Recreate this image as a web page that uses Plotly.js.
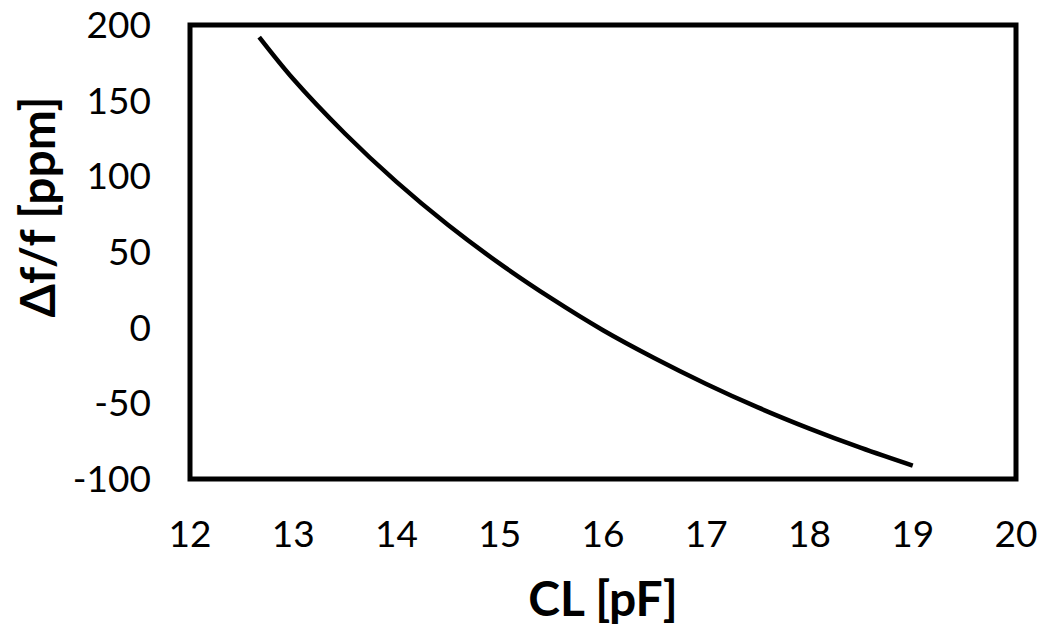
<!DOCTYPE html>
<html>
<head>
<meta charset="utf-8">
<script src="https://cdn.plot.ly/plotly-3.0.1.min.js"></script>
<style>
  html, body { margin: 0; padding: 0; background: #ffffff; }
  #chart { width: 1040px; height: 631px; }
</style>
</head>
<body>
<div id="chart"></div>
<script>
// Load capacitance CL [pF]
const clValues = [12.67, 13.0, 13.5, 14.0, 14.5, 15.0, 15.5, 16.0, 16.5, 17.0, 17.5, 18.0, 18.5, 19.0];
// Frequency pulling Δf/f [ppm]
const ppmValues = [192, 164.3, 128.3, 96.3, 67.8, 42.3, 19.3, -1.7, -20.2, -37.2, -52.7, -66.7, -79.5, -91.2];

const xTickVals = [12, 13, 14, 15, 16, 17, 18, 19, 20];
const yTickVals = [-100, -50, 0, 50, 100, 150, 200];

const xTitle = 'CL [pF]';
const yTitle = 'Δf/f [ppm]';

const tickFont = { family: 'Lato, Open Sans, sans-serif', size: 37, color: '#000000' };
const titleFont = { family: 'Lato, Liberation Sans, sans-serif', size: 48, color: '#000000', weight: 'bold' };

const trace = {
  x: clValues,
  y: ppmValues,
  type: 'scatter',
  mode: 'lines',
  line: { color: '#000000', width: 4.5, shape: 'spline', smoothing: 1 },
  hoverinfo: 'skip'
};

const layout = {
  width: 1040,
  height: 631,
  margin: { l: 190, r: 24, t: 25, b: 152, pad: 0 },
  paper_bgcolor: '#ffffff',
  plot_bgcolor: '#ffffff',
  showlegend: false,
  xaxis: {
    range: [12, 20.0001],
    tickvals: xTickVals,
    ticktext: xTickVals.map(String),
    ticks: '',
    showgrid: false,
    zeroline: false,
    showline: false,
    tickfont: tickFont,
    ticklabelstandoff: 30,
    title: { text: xTitle, font: titleFont, standoff: 28 }
  },
  yaxis: {
    range: [-100.0001, 200.0001],
    tickvals: yTickVals,
    ticktext: yTickVals.map(String),
    ticks: '',
    showgrid: false,
    zeroline: false,
    showline: false,
    tickfont: tickFont,
    ticklabelstandoff: 38
  },
  annotations: [{
    text: yTitle,
    font: titleFont,
    textangle: -90,
    xref: 'paper', yref: 'paper',
    x: 0, y: 0.598,
    xanchor: 'center', yanchor: 'middle',
    xshift: -153,
    showarrow: false
  }],
  shapes: [{
    type: 'rect', xref: 'paper', yref: 'paper',
    x0: 0, x1: 1, y0: 0, y1: 1,
    line: { color: '#000000', width: 5 },
    fillcolor: 'rgba(0,0,0,0)',
    layer: 'above'
  }]
};

Plotly.newPlot('chart', [trace], layout, { staticPlot: true, displayModeBar: false });
</script>
</body>
</html>
